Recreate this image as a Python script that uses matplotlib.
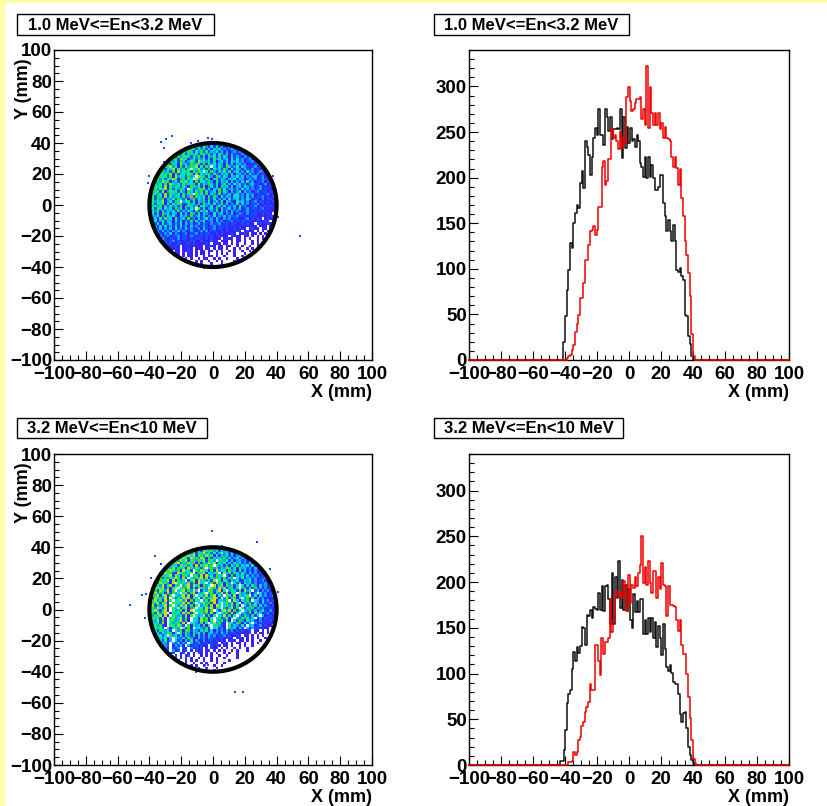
"""
Neutron beam profiles at the detector: XY maps and X/Y projections
for two energy bands.  Cell levels and bin heights read off the plot.
"""
import matplotlib
matplotlib.use("Agg")
import matplotlib.pyplot as plt
from matplotlib.colors import ListedColormap
from matplotlib.patches import Circle, Rectangle
from matplotlib.ticker import MultipleLocator
import numpy as np

plt.rcParams["font.family"] = ["Liberation Sans", "DejaVu Sans"]
plt.rcParams["font.weight"] = "bold"

TITLE_LOW = "1.0 MeV<=En<3.2 MeV"
TITLE_HIGH = "3.2 MeV<=En<10 MeV"

# ---------------------------------------------------------------------------
# Projections, bin heights left to right
# ---------------------------------------------------------------------------
LOW_BLACK = [20, 48, 77, 99, 128, 123, 150, 161, 170, 167, 194, 207, 189, 240, 234, 225, 203,
             223, 244, 255, 247, 275, 247, 247, 236, 275, 267, 251, 267, 242, 253, 253, 255,
             253, 275, 222, 267, 233, 256, 238, 255, 240, 242, 234, 247, 240, 216, 212, 201,
             223, 200, 223, 201, 214, 200, 187, 187, 190, 203, 203, 172, 158, 141, 154, 141,
             130, 148, 130, 99, 97, 101, 92, 88, 49, 48, 26, 18, 4]
LOW_BLACK_RANGE = (-41, 40)
LOW_RED = [2, 4, 5, 11, 16, 31, 40, 49, 68, 68, 84, 110, 110, 126, 141, 143, 147, 137, 143,
           168, 168, 212, 218, 192, 196, 220, 220, 253, 244, 247, 240, 231, 251, 233, 245,
           238, 289, 299, 284, 273, 275, 282, 286, 286, 288, 264, 275, 258, 322, 255, 299,
           271, 258, 271, 258, 271, 253, 260, 244, 256, 244, 242, 240, 223, 212, 223, 211,
           192, 209, 178, 158, 130, 115, 95, 70, 29, 4]
LOW_RED_RANGE = (-39, 41)
HIGH_BLACK = [4, 4, 16, 38, 68, 78, 82, 105, 124, 114, 129, 122, 130, 151, 150, 131, 164, 163,
              170, 161, 173, 171, 170, 188, 170, 196, 168, 196, 197, 181, 154, 210, 154, 205,
              183, 223, 172, 202, 170, 197, 168, 192, 159, 150, 187, 167, 179, 167, 181, 181,
              143, 159, 143, 161, 145, 161, 139, 156, 129, 152, 139, 120, 154, 127, 107, 103,
              109, 101, 91, 89, 89, 78, 56, 47, 57, 58, 40, 20, 11, 5, 2]
HIGH_BLACK_RANGE = (-43, 41)
HIGH_RED = [3, 3, 4, 14, 11, 14, 27, 31, 43, 47, 58, 63, 69, 89, 82, 82, 131, 131, 114, 98,
            139, 121, 134, 135, 139, 182, 145, 159, 186, 190, 185, 188, 183, 201, 185, 168,
            208, 177, 197, 194, 206, 196, 210, 219, 250, 199, 217, 197, 223, 199, 188, 212,
            212, 183, 205, 192, 221, 197, 196, 163, 196, 175, 175, 174, 173, 159, 147, 159,
            131, 121, 121, 100, 74, 51, 27, 7, 2]
HIGH_RED_RANGE = (-38, 42)

# ---------------------------------------------------------------------------
# XY maps: one string per 1.6 mm row, top row first, colour level per cell
# ---------------------------------------------------------------------------
LOW_MAP = [
    "2342512342",
    "32452631425231232",
    "3546243625143523124212",
    "25364153625243524131232312",
    "36251463524635241532413221312",
    "4263564253624163524253142321323",
    "3562746135263524163523415242312321",
    "463526413562746352413524153423122312",
    "35264173526354251635243152413423121232",
    "264735162536471526304253164235143212312",
    "35264715362506473526153426315243142231212",
    "463526173546253640526314352613423152312321",
    "2546371526435617253462531435241342315223121",
    "36452617354263507462531642531435241323412312",
    "463526475136254073526314625314352431242312321",
    "2537461352647351625436315243514231425231223121",
    "46352617435263546172536425136241534231342212312",
    "354627153642531643526135241635241342532312312121",
    "263547162536410523647251436251342315241322312212",
    "3546271354625316425361523416253142351423123122121",
    "2463517264351625406352614325132413523142312212312",
    "35264172536425139264351426315243154231423122312121",
    "46253614352642513625341625132415234132531221312212",
    "25364713526403562514362513425143215342312312212121",
    "36254615243562143526153425136241325142312231212112",
    "24536142536251364251463251342513241523122312121211",
    "35264153426351425306251342615234132512312212312112",
    "24361524352614253162435132514231423122321212121112",
    "35241635243152416325143215234132412321312211212101",
    "2435162435215342613524132513241322312212121121121",
    "3241526341523416231423523142132312211231212101211",
    "241352431524132615234123142312231212212112112101",
    "324152341325142312413213223122122112121101211211",
    "23142513241523142312321231221212112111211011101",
    "3241324152314231231421231221211212110121101101",
    "231423132413213212313122112121112101211010101",
    "32132413212312231212211212111210112101101010",
    "2312312231221321221212112111021110110101010",
    "132122131221212211212111012110110101001010",
    "21212312112122112111211011101011010010100",
    "121211221121211112101110110101001001010",
    "12112101211211101211011011001010010010",
    "011210112101110110101101001010010100",
    "1011011210101101101010010100100100",
    "0110101101011010010101001000100",
    "01010110100101101001000100100",
    "10101001011001010010001000",
    "0100101001001010000100",
    "00101000100010000",
    "0000100100",
]
HIGH_MAP = [
    "3452634524",
    "45362754635243423",
    "4637254836251473524232",
    "36574825637461524352413423",
    "46375284637516243536241342312",
    "5637482563947265304635241342312",
    "4758263749162538472635142534231423",
    "364527463518264736053426153624352413",
    "45372645186354270463526374152634231423",
    "264753618452063745261834526341524231312",
    "53746218463570264815346027351642531423122",
    "364582741653046271835264503162435241323121",
    "4726354861720536482715364261530425134231223",
    "36548172634025718463527061542635124352312312",
    "527463180546372618450362745163042516342312231",
    "4638257146035827461635082471536240514263142312",
    "35748261570463825174630562837146250341526231312",
    "462753816045726384015376248150364261735024132312",
    "573641826350472681537046253827164053426130423122",
    "3648257160534827160453726815306427153460251423123",
    "5274638105263748156027364851037264150362514231212",
    "46735182604573816254036278145360274153620431523122",
    "36482751064538271605473628150463725014362531421312",
    "57263481605374826150346271850463725104263514232121",
    "46385271064825713604527381650324716052436152312212",
    "35742681053462718054637160425837162504362413521312",
    "46283570164528371604536271504362715043261534123121",
    "53647281056342716053482615043726150426315240312212",
    "36452710653482610542736150462371504263514023122121",
    "4537261056348261054273615043625104263153421312121",
    "3645271053462810453261504736210542631524031221211",
    "453621056374206153426150463210524315203412312110",
    "364520614530726104532610452310634152041322121101",
    "35264352053614625314352413231423121211201101010",
    "3425364140526314352613423142312212111201011010",
    "345240635241532614231423122312112101101010100",
    "24351405324163214231322122121101210101010010",
    "3425130423142513213122121210121011010100100",
    "243103241320412312212110121010110100101000",
    "12320132410312212110212101101001010010000",
    "231021302103121201021101010010100100000",
    "12031201201021101201010100101000100000",
    "012001201010210101010010100100000000",
    "1020101201001010100100100010000000",
    "0101020100101001010010000100000",
    "01001010100100101000010000000",
    "10100100101000100100000000",
    "0010100100010010000000",
    "00010010001000000",
    "0000010000",
]
LEVEL_COLORS = ["#ffffff", "#3a20ff", "#1050ff", "#00a0ff", "#00d0f0",
                "#00f0a0", "#20f020", "#90f000", "#d0e000", "#ff9000"]

# stray single hits outside the main spot
LOW_OUT_X = [-25.6, -29.6, -32.8, -31, -3.4, -0.4, -9.7, -13.9, 54.8, -5.7, -31, -40, -41, 37.6, 41]
LOW_OUT_Y = [44.5, 42.4, 40.5, 36.8, 43.5, 42.4, 41.6, 39.9, -20, -40.5, 28, 19, 14, 19, -8]
HIGH_OUT_X = [-0.4, 27.7, -36.5, -52, -44.7, -42, -39, -33, -10.7, 13.9, 18.7, 36, 40.7, -5, -3, 5.5, -5.6, -43]
HIGH_OUT_Y = [50.4, 43.7, 34.6, 3, 9.5, 10, 20, 29, -40.5, -53, -53, 26, 11.5, -36, -36, 41, 40, -5.5]

FIG_W, FIG_H = 827, 806


def px_axes(fig, left, top, right, bottom):
    return fig.add_axes([left / FIG_W, 1 - bottom / FIG_H,
                         (right - left) / FIG_W, (bottom - top) / FIG_H])


def title_box(fig, text, left, top, right, bottom):
    fig.add_artist(Rectangle((left / FIG_W, 1 - bottom / FIG_H),
                             (right - left) / FIG_W, (bottom - top) / FIG_H,
                             transform=fig.transFigure, fc="white", ec="black", lw=1))
    fig.text((left + right) / 2 / FIG_W, 1 - (top + bottom) / 2 / FIG_H - 0.001, text,
             ha="center", va="center", fontsize=12, fontweight="bold")


def style_axes(ax):
    ax.set_xlim(-100, 100)
    ax.xaxis.set_major_locator(MultipleLocator(20))
    ax.xaxis.set_minor_locator(MultipleLocator(5))
    ax.tick_params(which="major", direction="in", length=6.8, width=0.8, labelsize=13.5,
                   top=False, right=False, pad=1.5)
    ax.tick_params(axis="x", which="major", pad=4)
    ax.tick_params(which="minor", direction="in", length=3.5, width=0.8, top=False, right=False)
    ax.set_xlabel("X (mm)", fontsize=13, fontweight="bold", loc="right", labelpad=1)
    for s in ax.spines.values():
        s.set_linewidth(1.0)


def draw_map(ax, rows, out_x, out_y):
    cells = np.array([[int(c) for c in r.center(50, "0")] for r in rows])
    cmap = ListedColormap(LEVEL_COLORS)
    ax.imshow(cells, extent=(-40, 40, -40, 40), origin="upper", cmap=cmap, vmin=-0.5, vmax=9.5,
              aspect="auto", interpolation="nearest")
    ax.scatter(out_x, out_y, s=3, marker="s", c=LEVEL_COLORS[2], linewidths=0)
    ax.add_patch(Circle((0, 0), 40, fill=False, ec="black", lw=3))
    style_axes(ax)
    ax.set_ylim(-100, 100)
    ax.yaxis.set_major_locator(MultipleLocator(20))
    ax.yaxis.set_minor_locator(MultipleLocator(5))
    ax.set_ylabel("Y (mm)", fontsize=13, fontweight="bold", loc="top")
    ax.yaxis.set_label_coords(-0.07, 0.974)


def draw_hist(ax, black, black_range, red, red_range):
    for vals, rng, color in ((black, black_range, "#101010"), (red, red_range, "#f00000")):
        edges = np.linspace(rng[0], rng[1], len(vals) + 1)
        x = np.concatenate(([-100], edges, [100]))
        y = np.concatenate(([0], vals, [0, 0]))
        ax.step(x, y, where="post", color=color, lw=1.1, clip_on=False, zorder=3)
    style_axes(ax)
    ax.set_ylim(0, 340)
    ax.yaxis.set_major_locator(MultipleLocator(50))
    ax.yaxis.set_minor_locator(MultipleLocator(10))


fig = plt.figure(figsize=(FIG_W / 100, FIG_H / 100), dpi=100, facecolor="#ffffa8")
fig.add_artist(Rectangle((5 / FIG_W, 0), 1, 1 - 3 / FIG_H, transform=fig.transFigure,
                         fc="white", ec="none", zorder=-1))

draw_map(px_axes(fig, 54, 50, 372, 360), LOW_MAP, LOW_OUT_X, LOW_OUT_Y)
draw_map(px_axes(fig, 54, 454, 372, 765), HIGH_MAP, HIGH_OUT_X, HIGH_OUT_Y)
draw_hist(px_axes(fig, 469, 50, 789, 360), LOW_BLACK, LOW_BLACK_RANGE, LOW_RED, LOW_RED_RANGE)
draw_hist(px_axes(fig, 469, 454, 789, 765), HIGH_BLACK, HIGH_BLACK_RANGE, HIGH_RED, HIGH_RED_RANGE)

title_box(fig, TITLE_LOW, 17, 14, 214, 35)
title_box(fig, TITLE_LOW, 434, 14, 629, 35)
title_box(fig, TITLE_HIGH, 17, 418, 207, 438)
title_box(fig, TITLE_HIGH, 434, 418, 623, 438)

fig.savefig("out.png", dpi=100, facecolor=fig.get_facecolor())
